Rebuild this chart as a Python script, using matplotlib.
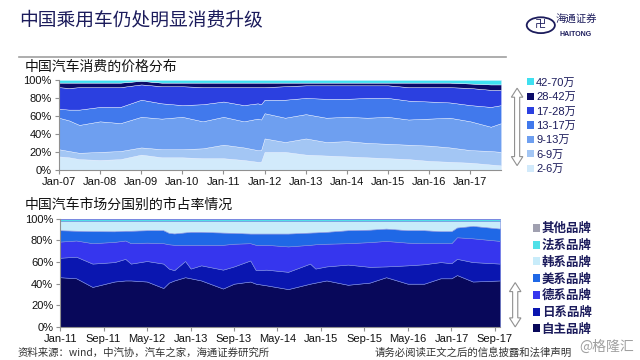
import pandas as pd
import matplotlib.pyplot as plt
import matplotlib.dates as mdates
from matplotlib.patches import Rectangle, Polygon, Circle
from matplotlib.ticker import PercentFormatter

plt.rcParams['font.family'] = ['Liberation Sans', 'Noto Sans CJK SC', 'DejaVu Sans']
CJK = ['Noto Sans CJK SC', 'DejaVu Sans']

# ---- price distribution (share of sales, %) ----
price_dates = ['2007-01', '2007-04', '2007-07', '2008-01', '2008-07', '2009-01', '2009-07',
               '2010-01', '2010-07', '2011-01', '2011-07', '2011-11', '2011-12', '2012-01',
               '2012-07', '2013-01', '2013-07', '2014-01', '2014-07', '2015-01', '2015-07',
               '2016-01', '2016-07', '2017-01', '2017-07', '2017-10']
p_2_6 = [15, 14, 12, 11, 12, 17, 14, 14, 13, 13, 11, 9, 9, 20, 20, 17, 16, 15, 14, 13, 12, 10, 9, 8, 6, 5]
p_6_9 = [8, 7, 7, 9, 9, 8, 9, 9, 11, 15, 14, 13, 13, 15, 11, 18, 15, 17, 16, 16, 16, 17, 16, 14, 15, 15]
p_9_13 = [35, 34, 31, 34, 31, 34, 34, 36, 30, 31, 29, 35, 34, 28, 27, 27, 27, 27, 28, 30, 28, 30, 33, 32, 27, 32]
p_13_17 = [10, 12, 17, 16, 18, 19, 17, 13, 19, 17, 18, 17, 17, 15, 20, 18, 21, 20, 22, 21, 21, 19, 17, 18, 22, 20]
p_17_28 = [24, 24, 25, 22, 22, 17, 19, 21, 19, 16, 20, 18, 19, 14, 15, 14, 15, 15, 14, 14, 15, 16, 17, 19, 19, 17]
p_28_42 = [5, 6, 5, 5, 5, 4, 4, 4, 5, 5, 5, 5, 5, 5, 4, 3, 3, 3, 3, 3, 5, 5, 5, 5, 6, 6]
p_42_70 = [3, 3, 3, 3, 3, 1, 3, 3, 3, 3, 3, 3, 3, 3, 3, 3, 3, 3, 3, 3, 3, 3, 3, 4, 5, 5]
price_labels = ['2-6万', '6-9万', '9-13万', '13-17万', '17-28万', '28-42万', '42-70万']

# ---- market share by brand origin (%) ----
brand_dates = ['2011-01', '2011-04', '2011-07', '2011-11', '2012-01', '2012-02', '2012-05', '2012-08',
               '2012-09', '2012-10', '2012-12', '2013-01', '2013-03', '2013-07', '2013-09', '2013-12',
               '2014-01', '2014-03', '2014-07', '2014-11', '2014-12', '2015-02', '2015-06', '2015-10',
               '2016-01', '2016-05', '2016-08', '2016-11', '2017-01', '2017-02', '2017-05', '2017-10']
b_own = [46, 45, 37, 42, 43, 43, 42, 36, 41, 43, 46, 45, 43, 35.5, 40, 42, 40, 38.5, 35, 40, 41, 43,
         39, 41, 46, 40, 40, 45, 45, 48, 42, 43]
b_jp = [18, 20, 21.6, 18, 20, 15.6, 19, 22.6, 13, 9.5, 15, 9, 14, 17.5, 16, 19.5, 12.5, 14.5, 16,
        18.6, 13, 13, 18.7, 14.6, 10, 17, 18, 15, 14, 15, 18, 15.6]
b_de = [15, 15, 18.9, 18.7, 17, 18.9, 17, 18.9, 22.5, 23.5, 15, 22, 19, 23, 21, 16, 23.5, 23, 23.5,
        17.4, 22.5, 21, 19.8, 22.9, 23.6, 21, 19.5, 17.5, 18.5, 20, 22, 21]
b_us = [10.5, 9, 11.1, 9.8, 9, 11.5, 11.5, 12, 10.5, 10.5, 11.5, 12, 12, 11.3, 10, 8.9, 10.4, 10.4,
        11.9, 11.3, 11, 11, 12, 11.5, 11.4, 11.5, 12, 11.1, 11.1, 9, 11.5, 11.4]
b_kr = [8.5, 9, 9.4, 9.5, 9, 9, 8.5, 8.5, 11, 11.5, 10.5, 10, 10, 10.7, 11, 11.6, 11.6, 11.6, 11.6,
        10.7, 10.5, 10, 8.5, 8, 7, 8.5, 8.5, 9.4, 9.4, 6, 4.5, 7]
b_fr = [1.7] * 32
b_other = [0.3] * 32
brand_labels = ['自主品牌', '日系品牌', '德系品牌', '美系品牌', '韩系品牌', '法系品牌', '其他品牌']

price_colors = ['#d2eafb', '#a3c6f4', '#6e9ff0', '#4179ec', '#2b40e0', '#0b0b68', '#3fe0f0']
brand_colors = ['#08085a', '#0a16b0', '#3636ee', '#1f68e6', '#c8ecfa', '#4fe0e8', '#a0a0b0']
navy = '#1c1c5c'

fig = plt.figure(figsize=(6.4, 3.6), dpi=100)
fig.patch.set_facecolor('white')

# header
fig.text(0.03, 0.945, '中国乘用车仍处明显消费升级', family=CJK, fontsize=13.5, color=navy, va='center')
fig.add_artist(plt.Line2D([0.03, 0.79], [0.842, 0.842], color='#a0a0a0', lw=1.2))
fig.add_artist(Circle((0.845, 0.93), 0.022, transform=fig.transFigure, fill=False,
                      ec=navy, lw=1.3))
fig.text(0.845, 0.93, '卍', family=CJK, fontsize=8, color=navy, ha='center', va='center')
fig.text(0.9, 0.947, '海通证券', family=CJK, fontsize=7.5, color=navy, ha='center', va='center',
         style='italic')
fig.text(0.9, 0.905, 'HAITONG', fontsize=5, color=navy, ha='center', va='center', weight='bold')

fig.text(0.039, 0.815, '中国汽车消费的价格分布', family=CJK, fontsize=10, color='#111111', va='center')
fig.text(0.039, 0.43, '中国汽车市场分国别的市占率情况', family=CJK, fontsize=10, color='#111111', va='center')


def style_axes(ax):
    for s in ['top', 'right']:
        ax.spines[s].set_visible(False)
    for s in ['left', 'bottom']:
        ax.spines[s].set_color('#909090')
        ax.spines[s].set_linewidth(0.8)
    ax.tick_params(colors='#909090', length=3, width=0.8, labelsize=8, labelcolor='#111111', pad=2)
    ax.set_ylim(0, 100)
    ax.set_yticks(range(0, 101, 20))
    ax.yaxis.set_major_formatter(PercentFormatter(decimals=0))
    ax.set_facecolor('white')


# top chart
ax1 = fig.add_axes([0.092, 0.528, 0.691, 0.25])
pd1 = pd.to_datetime(price_dates)
ax1.stackplot(pd1, p_2_6, p_6_9, p_9_13, p_13_17, p_17_28, p_28_42, p_42_70,
              colors=price_colors, labels=price_labels, edgecolor='#e8f0ff', linewidth=0.3)
ax1.set_xlim(pd1[0], pd1[-1])
ax1.xaxis.set_major_locator(mdates.YearLocator(month=1))
ax1.xaxis.set_major_formatter(mdates.DateFormatter('%b-%y'))
style_axes(ax1)

# bottom chart
ax2 = fig.add_axes([0.094, 0.092, 0.6875, 0.3])
bd = pd.to_datetime(brand_dates)
ax2.stackplot(bd, b_own, b_jp, b_de, b_us, b_kr, b_fr, b_other,
              colors=brand_colors, labels=brand_labels, edgecolor='#7a8ae0', linewidth=0.4)
ax2.set_xlim(bd[0], bd[-1])
ax2.set_xticks(pd.date_range('2011-01-01', '2017-09-01', freq='8MS'))
ax2.xaxis.set_major_formatter(mdates.DateFormatter('%b-%y'))
style_axes(ax2)

# legends (top entry = top layer)
h1 = [Rectangle((0, 0), 1, 1, fc=c) for c in price_colors][::-1]
fig.legend(h1, price_labels[::-1], loc='upper left', bbox_to_anchor=(0.815, 0.8),
           frameon=False, handlelength=0.6, handleheight=0.6, handletextpad=0.2,
           labelspacing=0.4, borderpad=0, labelcolor=navy,
           prop={'family': ['Liberation Sans', 'Noto Sans CJK SC'], 'size': 8})
h2 = [Rectangle((0, 0), 1, 1, fc=c) for c in brand_colors][::-1]
fig.legend(h2, brand_labels[::-1], loc='upper left', bbox_to_anchor=(0.823, 0.4),
           frameon=False, handlelength=0.6, handleheight=0.6, handletextpad=0.1,
           labelspacing=0.3, borderpad=0, labelcolor=navy,
           prop={'family': CJK, 'size': 9, 'weight': 'bold'})


def double_arrow(xc, y0, y1):
    w, hw, hl = 0.004, 0.009, 0.025
    pts = [(xc, y0), (xc + hw, y0 + hl), (xc + w, y0 + hl), (xc + w, y1 - hl), (xc + hw, y1 - hl),
           (xc, y1), (xc - hw, y1 - hl), (xc - w, y1 - hl), (xc - w, y0 + hl), (xc - hw, y0 + hl)]
    fig.add_artist(Polygon(pts, closed=True, transform=fig.transFigure, fc='white',
                           ec='#909090', lw=0.8))


double_arrow(0.808, 0.54, 0.755)
double_arrow(0.805, 0.092, 0.215)

# footer
fig.text(0.028, 0.02, '资料来源：wind，中汽协，汽车之家，海通证券研究所', family=CJK, fontsize=7.5,
         color='#333333', va='center')
fig.text(0.585, 0.022, '请务必阅读正文之后的信息披露和法律声明', family=CJK, fontsize=7.5,
         color='#333333', va='center')
fig.text(0.905, 0.037, '@格隆汇', family=CJK, fontsize=10, color='#a0a0a0', va='center')

fig.savefig('out.png', dpi=100, facecolor='white')
